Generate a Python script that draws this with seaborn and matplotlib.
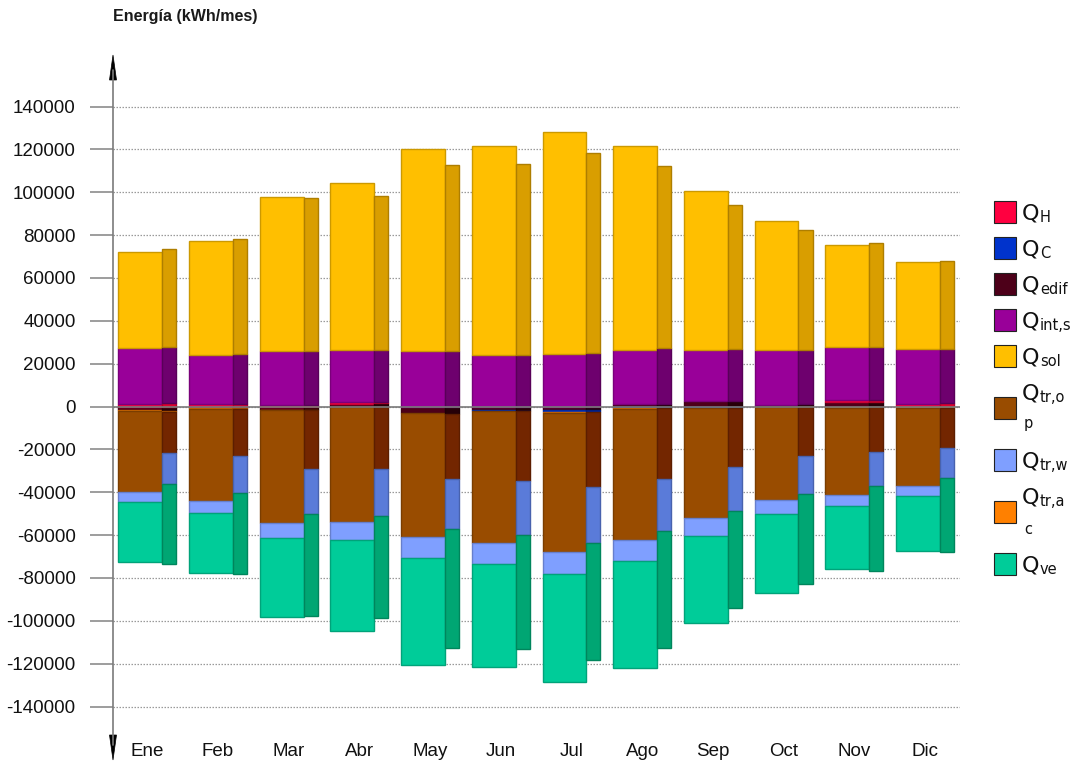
import numpy as np
import pandas as pd
import matplotlib
matplotlib.use("Agg")
import matplotlib.pyplot as plt
from matplotlib.patches import Polygon, Rectangle
from matplotlib.lines import Line2D
import seaborn as sns

meses = ["Ene", "Feb", "Mar", "Abr", "May", "Jun",
         "Jul", "Ago", "Sep", "Oct", "Nov", "Dic"]

# Edificio objeto (barra ancha), kWh/mes
qh_obj = [1200, 1000, 500, 1000, 0, 0, 0, 0, 0, 0, 1100, 1200]
qc_obj = [0, 0, 0, 0, 0, -400, -1100, -700, -500, 0, 0, 0]
qedif_obj = [-1800, -500, -1400, 1000, -3100, -1500, -1400, 1200, 2800, 900, 2000, 0]
qint_obj = [26300, 23000, 25500, 24200, 25900, 24200, 24500, 25300, 23700, 25600, 24650, 25800]
qsol_obj = [44700, 53200, 71900, 78250, 94300, 97400, 103500, 95100, 74200, 60300, 47700, 40200]
qtrop_obj = [-37450, -43000, -52870, -53700, -58000, -61900, -64900, -61300, -51700, -43300, -40550, -36450]
qtrw_obj = [-4700, -5700, -6830, -8260, -9400, -9600, -10150, -9900, -8100, -6550, -5300, -4850]
qtrac_obj = [-500, -500, -300, -400, 0, 0, -400, -400, 0, -300, -600, -500]
qve_obj = [-28000, -27900, -36800, -42440, -50200, -48200, -50550, -49600, -40600, -36800, -29300, -25550]

# Edificio de referencia (barra estrecha), kWh/mes
qh_ref = [1500, 1200, 500, 500, 0, 0, 0, 0, 0, 0, 1000, 1800]
qc_ref = [0, 0, 0, 0, 0, -200, -800, -600, -500, 0, 0, 0]
qedif_ref = [-1900, -800, -1500, 1500, -3700, -1900, -1600, 1000, 2800, 1000, 2000, 0]
qint_ref = [26300, 23100, 25600, 24500, 25700, 24200, 25100, 26400, 23850, 25500, 25000, 25200]
qsol_ref = [45500, 53650, 71300, 71700, 87000, 89000, 93400, 84850, 67200, 56000, 48200, 40800]
qtrop_ref = [-19400, -22000, -27200, -28850, -30300, -32700, -35000, -33200, -27560, -23000, -21000, -18700]
qtrw_ref = [-14400, -17200, -21200, -22150, -23200, -25100, -26100, -24200, -20600, -17500, -15700, -14200]
qtrac_ref = [-500, -400, -300, -300, 0, 0, 0, 0, 0, -230, -400, -600]
qve_ref = [-37100, -37700, -47550, -47200, -55700, -53100, -55000, -54600, -45200, -41900, -39600, -34600]

yticks = list(range(-140000, 140001, 20000))

# series: key -> (legend main/sub text, colour objeto, colour referencia)
claves = ["H", "C", "edif", "int", "sol", "trop", "trw", "trac", "ve"]
sub_txt = {"H": "H", "C": "C", "edif": "edif", "int": "int,s", "sol": "sol",
           "trop": "tr,o", "trw": "tr,w", "trac": "tr,a", "ve": "ve"}
wrap_txt = {"trop": "p", "trac": "c"}
col_obj = {"H": "#ff0040", "C": "#0033cc", "edif": "#4d0019", "int": "#990099",
           "sol": "#ffbf00", "trop": "#994c00", "trw": "#7f9fff", "trac": "#ff8000",
           "ve": "#00cc99"}
col_ref = {"H": "#e0002e", "C": "#0026a0", "edif": "#260008", "int": "#6e006e",
           "sol": "#d99e00", "trop": "#732600", "trw": "#5a7bd9", "trac": "#d96a00",
           "ve": "#00a673"}

obj = {"H": qh_obj, "C": qc_obj, "edif": qedif_obj, "int": qint_obj, "sol": qsol_obj,
       "trop": qtrop_obj, "trw": qtrw_obj, "trac": qtrac_obj, "ve": qve_obj}
ref = {"H": qh_ref, "C": qc_ref, "edif": qedif_ref, "int": qint_ref, "sol": qsol_ref,
       "trop": qtrop_ref, "trw": qtrw_ref, "trac": qtrac_ref, "ve": qve_ref}

# stacking order away from the zero line
orden = ["edif", "H", "C", "int", "sol", "trac", "trop", "trw", "ve"]

sns.set_theme(style="white")
plt.rcParams["font.family"] = ["Liberation Sans", "DejaVu Sans"]

W, H = 1083, 764
fig = plt.figure(figsize=(W / 100, H / 100), dpi=100)

def fx(px):
    return px / W

def fy(py):
    return 1 - py / H

# plot area in pixels
ax_l, ax_r, ax_t, ax_b = 113, 960, 57, 735
ax = fig.add_axes([fx(ax_l), fy(ax_b), fx(ax_r - ax_l), (ax_b - ax_t) / H])

zero_px = 406.5
per_px = 280000 / 600.0
ax.set_ylim(-(ax_b - zero_px) * per_px, (zero_px - ax_t) * per_px)
x0_px, dx_px = 147.3, 70.7
ax.set_xlim((ax_l - x0_px) / dx_px, (ax_r - x0_px) / dx_px)


def darker(c, f):
    r, g, b = matplotlib.colors.to_rgb(c)
    return (r * f, g * f, b * f)


def apilar(valores, centro, ancho, colores):
    pos = np.zeros(len(meses))
    neg = np.zeros(len(meses))
    x = np.arange(len(meses)) + centro
    for k in orden:
        v = np.asarray(valores[k], dtype=float)
        base = np.where(v >= 0, pos, neg)
        m = v != 0
        if m.any():
            df = pd.DataFrame({"mes": x[m], "energia": v[m]})
            xs = df["mes"].to_numpy()
            nat = np.min(np.diff(xs)) if len(xs) > 1 else 1.0
            sns.barplot(data=df, x="mes", y="energia", native_scale=True,
                        width=ancho / nat, bottom=base[m], color=colores[k],
                        saturation=1, edgecolor=darker(colores[k], 0.8),
                        linewidth=1.0, errorbar=None, ax=ax, zorder=2)
        pos += np.clip(v, 0, None)
        neg += np.clip(v, None, 0)


# wide bar spans -0.41..0.21, narrow bar 0.21..0.41 around each month
apilar(obj, -0.10, 0.62, col_obj)
apilar(ref, 0.31, 0.20, col_ref)

ax.set_xlim((ax_l - x0_px) / dx_px, (ax_r - x0_px) / dx_px)
ax.set_ylim(-(ax_b - zero_px) * per_px, (zero_px - ax_t) * per_px)

ax.set_xlabel("")
ax.set_ylabel("")
ax.set_xticks(np.arange(len(meses)))
ax.set_xticklabels(meses, fontsize=13.5, color="#111111")
ax.set_yticks(yticks)
ax.set_yticklabels([str(t) for t in yticks], fontsize=13.5, color="#111111")
ax.tick_params(axis="x", length=0, pad=6)
ax.tick_params(axis="y", length=16.5, width=1.2, color="#8c8c8c", pad=10.5, left=True)

for s in ax.spines.values():
    s.set_visible(False)

ax.set_axisbelow(True)
ax.yaxis.grid(True, color="#9a9a9a", linestyle=(0, (1.2, 1.2)), linewidth=0.9)
ax.xaxis.grid(False)
ax.axhline(0, color="#7a7a7a", linewidth=1.2, zorder=5)

# vertical axis with arrows at both ends
fig.add_artist(Line2D([fx(113), fx(113)], [fy(70), fy(745)], color="#7a7a7a", linewidth=1.2))
fig.add_artist(Polygon([(fx(113), fy(55)), (fx(109.5), fy(80)), (fx(116.5), fy(80))],
                       closed=True, facecolor="black", edgecolor="black", linewidth=0.5))
fig.add_artist(Polygon([(fx(113), fy(760)), (fx(109.5), fy(735)), (fx(116.5), fy(735))],
                       closed=True, facecolor="black", edgecolor="black", linewidth=0.5))

fig.text(fx(113), fy(17), "Energía (kWh/mes)", fontsize=11.5, fontweight="bold",
         color="#1a1a1a", ha="left", va="center")

# legend
leg = {
    "H": (212, 220, None),
    "C": (248, 256, None),
    "edif": (284, 292, None),
    "int": (320, 328, None),
    "sol": (356, 364, None),
    "trop": (408, 400, 428),
    "trw": (460, 468, None),
    "trac": (512, 504, 534),
    "ve": (564, 572, None),
}
fam = ["DejaVu Sans"]
for k in claves:
    sq, base, wrap = leg[k]
    fig.add_artist(Rectangle((fx(994), fy(sq + 11)), fx(22), 22 / H,
                             facecolor=col_obj[k], edgecolor="#222222", linewidth=0.8))
    fig.text(fx(1022), fy(base), "Q", fontsize=16, family=fam, color="#111111",
             ha="left", va="baseline")
    fig.text(fx(1040), fy(base + 2), sub_txt[k], fontsize=10.5, family=fam,
             color="#111111", ha="left", va="baseline")
    if wrap is not None:
        fig.text(fx(1024), fy(wrap), wrap_txt[k], fontsize=10.5, family=fam,
                 color="#111111", ha="left", va="baseline")

fig.savefig("out.png", dpi=100)
